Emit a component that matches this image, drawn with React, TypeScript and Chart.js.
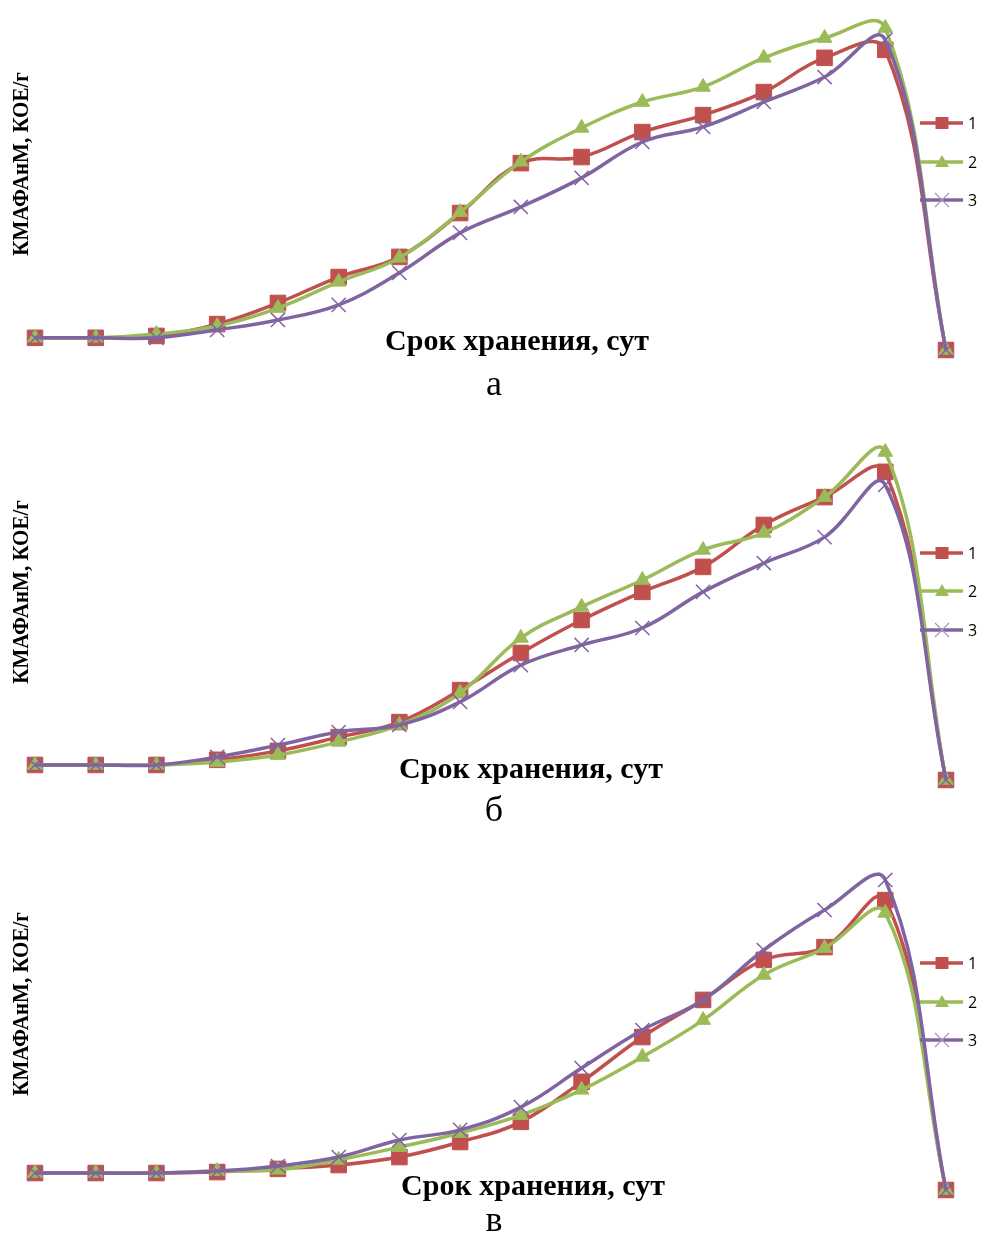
import React, { useEffect, useRef } from 'react';
import { Chart, registerables } from 'chart.js';

Chart.register(...registerables);

// ---------- data ----------
const days = ['0', '1', '2', '3', '4', '5', '6', '7', '8', '9', '10', '11', '12', '13', '14', '15'];
const seriesNames = ['1', '2', '3'];

const yTitle = 'КМАФАнМ, КОЕ/г';
const xTitle = 'Срок хранения, сут';
const panelLetters = ['а', 'б', 'в'];

// panel а
const a1 = [3.8, 3.8, 4.4, 8.1, 14.7, 22.8, 29.1, 42.8, 58.4, 60.3, 68.1, 73.4, 80.6, 91.3, 93.8, 0];
const a2 = [3.8, 3.8, 5.0, 7.5, 13.1, 21.3, 28.8, 43.1, 58.8, 69.4, 77.5, 82.2, 91.3, 97.5, 100.6, 0];
const a3 = [3.8, 3.8, 3.8, 6.3, 9.4, 14.1, 24.1, 36.6, 44.7, 53.8, 65.0, 69.7, 77.5, 85.3, 96.9, 0];

// panel б
const b1 = [4.7, 4.7, 4.7, 6.3, 9.1, 13.4, 18.1, 28.1, 39.7, 50.0, 58.8, 66.6, 79.7, 88.4, 96.3, 0];
const b2 = [4.7, 4.7, 4.7, 5.6, 7.8, 11.9, 17.2, 27.2, 44.4, 54.1, 62.5, 71.9, 77.2, 88.4, 102.5, 0];
const b3 = [4.7, 4.7, 4.7, 7.2, 10.9, 15.0, 17.2, 24.4, 35.9, 42.2, 47.5, 58.8, 67.8, 75.9, 92.2, 0];

// panel в
const c1 = [5.3, 5.3, 5.3, 5.6, 6.6, 7.8, 10.3, 15.0, 21.3, 33.8, 47.8, 59.4, 71.9, 75.9, 90.6, 0];
const c2 = [5.3, 5.3, 5.3, 5.9, 6.3, 9.4, 13.4, 17.8, 23.4, 31.3, 41.6, 53.1, 67.2, 75.6, 86.6, 0];
const c3 = [5.3, 5.3, 5.3, 5.9, 7.5, 10.3, 15.6, 18.8, 25.9, 38.1, 50.0, 59.4, 75.0, 87.5, 96.9, 0];

const panelSeries = [
  [a1, a2, a3],
  [b1, b2, b3],
  [c1, c2, c3],
];

// ---------- styles / layout ----------
const colors = ['#C0504D', '#9BBB59', '#8064A2'];
const pointStyles = ['rect', 'triangle', 'crossRot'];
const pointRadii = [11, 8.5, 10];
const pointBorders = [1, 1, 1.5];

const WIDTH = 981;
const PLOT_LEFT = 35;
const PLOT_RIGHT = 946;

const panels = [
  { top: 0, height: 410, plotTop: 30, plotBottom: 350, yTitleY: 164, xTitleX: 517, xTitleBase: 350, letterBase: 395, legendY: [123, 162, 200] },
  { top: 410, height: 420, plotTop: 460, plotBottom: 780, yTitleY: 592, xTitleX: 531, xTitleBase: 778, letterBase: 821, legendY: [553, 591, 630] },
  { top: 830, height: 403, plotTop: 870, plotBottom: 1190, yTitleY: 1004, xTitleX: 533, xTitleBase: 1195, letterBase: 1231, legendY: [963, 1002, 1040] },
];

type PanelLayout = typeof panels[number];

function drawMarker(ctx: CanvasRenderingContext2D, i: number, x: number, y: number) {
  ctx.save();
  if (i === 0) {
    ctx.fillStyle = colors[0];
    ctx.fillRect(x - 6.5, y - 6, 13, 12);
  } else if (i === 1) {
    ctx.fillStyle = colors[1];
    ctx.beginPath();
    ctx.moveTo(x, y - 7);
    ctx.lineTo(x + 7, y + 5);
    ctx.lineTo(x - 7, y + 5);
    ctx.closePath();
    ctx.fill();
  } else {
    ctx.strokeStyle = '#A895C8';
    ctx.lineWidth = 1.2;
    ctx.beginPath();
    ctx.moveTo(x - 7, y - 7);
    ctx.lineTo(x + 7, y + 7);
    ctx.moveTo(x + 7, y - 7);
    ctx.lineTo(x - 7, y + 7);
    ctx.stroke();
  }
  ctx.restore();
}

function makeTextPlugin(p: PanelLayout, letter: string, idx: number) {
  return {
    id: 'panelText' + idx,
    afterDraw(chart: Chart) {
      const ctx = chart.ctx;
      const off = p.top;
      ctx.save();
      ctx.fillStyle = '#000000';

      // y axis title (rotated)
      ctx.save();
      ctx.translate(28, p.yTitleY - off);
      ctx.rotate(-Math.PI / 2);
      ctx.scale(1, 1.06);
      ctx.font = 'bold 21px "Liberation Serif"';
      ctx.textAlign = 'center';
      ctx.textBaseline = 'alphabetic';
      ctx.fillText(yTitle, 0, 0);
      ctx.restore();

      // x axis title
      ctx.font = 'bold 30px "Liberation Serif"';
      ctx.textAlign = 'center';
      ctx.textBaseline = 'alphabetic';
      ctx.fillText(xTitle, p.xTitleX, p.xTitleBase - off);

      // panel letter
      ctx.font = '36px "Liberation Serif"';
      ctx.fillText(letter, 494, p.letterBase - off);

      // legend
      for (let i = 0; i < seriesNames.length; i++) {
        const ly = p.legendY[i] - off;
        ctx.save();
        ctx.strokeStyle = colors[i];
        ctx.lineWidth = 3.5;
        ctx.beginPath();
        ctx.moveTo(920, ly);
        ctx.lineTo(963, ly);
        ctx.stroke();
        ctx.restore();
        drawMarker(ctx, i, 942, ly);
        ctx.fillStyle = '#000000';
        ctx.font = '16px "Open Sans"';
        ctx.textAlign = 'left';
        ctx.textBaseline = 'middle';
        ctx.fillText(seriesNames[i], 968, ly + 1);
      }
      ctx.restore();
    },
  };
}

function Panel({ idx }: { idx: number }) {
  const ref = useRef<HTMLCanvasElement | null>(null);
  const p = panels[idx];

  useEffect(() => {
    if (!ref.current) return;
    const series = panelSeries[idx];
    const chart = new Chart(ref.current, {
      type: 'line',
      data: {
        labels: days,
        datasets: series.map((vals, i) => ({
          label: seriesNames[i],
          data: vals,
          order: series.length - 1 - i,
          borderColor: colors[i],
          backgroundColor: colors[i],
          pointBackgroundColor: colors[i],
          pointBorderColor: colors[i],
          pointStyle: pointStyles[i] as any,
          pointRadius: pointRadii[i],
          pointBorderWidth: pointBorders[i],
          borderWidth: 3.5,
          tension: 0.4,
          fill: false,
          clip: false as any,
        })),
      },
      options: {
        responsive: false,
        animation: false,
        devicePixelRatio: 1,
        layout: {
          padding: {
            left: PLOT_LEFT,
            right: WIDTH - PLOT_RIGHT,
            top: p.plotTop - p.top,
            bottom: p.top + p.height - p.plotBottom,
          },
        },
        elements: {
          line: { capBezierPoints: false },
        },
        scales: {
          x: { type: 'category', display: false, offset: false },
          y: { type: 'linear', display: false, min: 0, max: 100 },
        },
        plugins: {
          legend: { display: false },
          tooltip: { enabled: false },
        },
      },
      plugins: [makeTextPlugin(p, panelLetters[idx], idx)],
    });
    return () => chart.destroy();
  }, [idx]);

  return (
    <div style={{ position: 'absolute', left: 0, top: p.top, width: WIDTH, height: p.height }}>
      <canvas ref={ref} width={WIDTH} height={p.height} style={{ display: 'block' }} />
    </div>
  );
}

export default function App() {
  return (
    <div style={{ position: 'absolute', left: 0, top: 0, width: WIDTH, height: 1233, background: '#ffffff', overflow: 'hidden' }}>
      {panels.map((_, i) => (
        <Panel key={i} idx={i} />
      ))}
    </div>
  );
}
